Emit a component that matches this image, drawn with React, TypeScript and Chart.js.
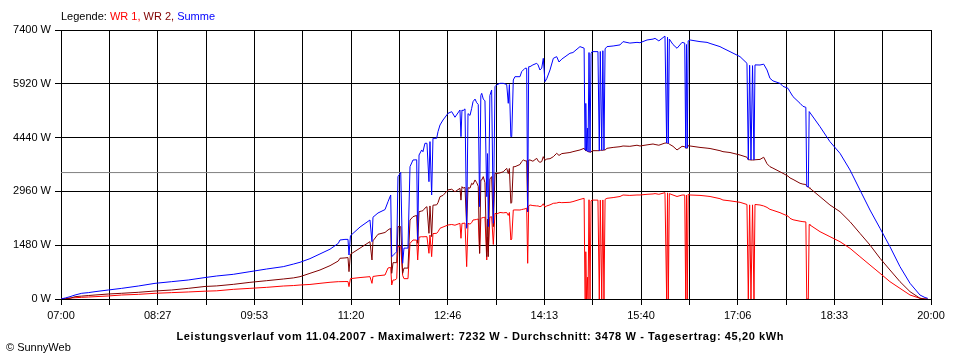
import { useEffect, useRef } from "react";
import { Chart, registerables } from "chart.js";

Chart.register(...registerables);

// x labels (every second grid line), day span in minutes from 07:00
const xTickLabels = ["07:00", "08:27", "09:53", "11:20", "12:46", "14:13", "15:40", "17:06", "18:33", "20:00"];
const dayMinutes = 780;
const yTickValues = [0, 1480, 2960, 4440, 5920, 7400];
const averageW = 3478;

const legendParts: [string, string][] = [
  ["Legende: ", "#000000"],
  ["WR 1,", "#ff0000"],
  [" WR 2,", "#800000"],
  [" Summe", "#0000ff"],
];
const titleText =
  "Leistungsverlauf vom 11.04.2007 - Maximalwert: 7232 W - Durchschnitt: 3478 W - Tagesertrag: 45,20 kWh";
const footerText = "\u00A9 SunnyWeb";

// minutes after 07:00
const minutes = [
  0, 4, 8.1, 12.6, 18.6, 24.5, 30.5, 42.4, 54.4, 69.3,
  84.3, 99.2, 114.1, 129.1, 139.6, 154.5, 169.4, 184.4, 199.3, 208.3,
  214.3, 223.2, 232.2, 241.2, 248.6, 250.1, 254.6, 257.3, 258.2, 259.5,
  268.1, 277.0, 278.8, 279.7, 284.2, 290.5, 293.2, 295.6, 296.5, 297.7,
  299.4, 301.0, 302.1, 304.6, 306.3, 307.5, 311.1, 312.9, 315.6, 318.9,
  319.8, 321.0, 323.4, 324.5, 326.3, 328.1, 329.9, 330.8, 332.3, 333.5,
  336.8, 338.0, 339.8, 342.5, 347.0, 350.3, 353.2, 357.7, 358.6, 359.5,
  360.4, 362.2, 363.7, 364.9, 366.7, 368.2, 369.4, 371.2, 372.7, 374.1,
  375.3, 376.4, 377.2, 378.6, 380.1, 381.7, 382.4, 383.1, 384.5, 386.1,
  387.6, 389.1, 390.6, 393.6, 396.5, 399.6, 401.0, 402.0, 403.3, 404.1,
  405.5, 407.0, 411.5, 413.0, 414.5, 416.0, 417.5, 418.4, 419.3, 420.5,
  423.1, 426.5, 427.7, 429.4, 431.0, 432.4, 433.9, 435.5, 438.4, 441.4,
  444.4, 446.5, 449.0, 456.3, 459.0, 465.3, 469.0, 469.8, 470.5, 471.1,
  472.0, 472.5, 473.4, 474.3, 475.2, 476.1, 481.4, 482.6, 483.5, 484.8,
  485.8, 486.8, 487.8, 489.5, 495.0, 501.2, 503.9, 510.0, 516.4, 519.1,
  525.4, 530.8, 532.6, 536.0, 541.5, 543.0, 543.8, 544.5, 545.4, 548.7,
  552.3, 556.8, 559.2, 560.1, 560.8, 561.5, 562.3, 564.0, 572.9, 579.2,
  581.9, 590.8, 593.5, 599.8, 608.8, 615.0, 616.2, 617.4, 618.6, 620.0,
  621.3, 622.2, 626.7, 630.0, 633.0, 635.6, 638.3, 644.6, 647.3, 651.8,
  653.6, 656.3, 662.6, 665.2, 667.8, 668.6, 670.0, 670.8, 671.5, 680.5,
  689.4, 698.4, 707.4, 716.3, 725.3, 734.3, 743.2, 752.2, 761.2, 770.1,
  774.6, 777.0,
];

const wr1 = [
  0, 10, 28, 35, 46, 55, 64, 83, 110, 128,
  157, 175, 193, 215, 225, 266, 293, 321, 357, 370,
  385, 400, 431, 460, 477, 477, 480, 480, 340, 560,
  590, 615, 430, 620, 640, 660, 853, 870, 385, 523,
  523, 560, 1440, 1440, 650, 560, 560, 1530, 1623, 1620,
  1073, 1700, 1715, 1710, 1715, 1715, 1257, 1760, 1165, 1800,
  1807, 1850, 1945, 1980, 2036, 2050, 2030, 2082, 1670, 2082,
  2080, 2090, 890, 2082, 2060, 2100, 2173, 2180, 2190, 2200,
  1257, 2210, 2230, 2240, 2250, 1073, 1700, 1300, 2250, 2264,
  1500, 2357, 2340, 2380, 2370, 2380, 2300, 2380, 1623, 1650,
  2448, 2450, 2448, 2460, 2470, 2480, 2500, 982, 2560, 2586,
  2570, 2560, 2560, 2540, 2560, 2620, 2530, 2560, 2590, 2632,
  2640, 2660, 2650, 2660, 2680, 2740, 2770, 0, 1300, 0,
  600, 0, 2730, 0, 2700, 2720, 2720, 0, 2720, 0,
  2725, 0, 2740, 2770, 2790, 2820, 2861, 2850, 2861, 2861,
  2880, 2890, 2900, 2880, 2925, 0, 2920, 0, 2900, 2860,
  2820, 2860, 2860, 0, 2860, 0, 2880, 2861, 2850, 2830,
  2820, 2760, 2723, 2700, 2660, 2600, 0, 2590, 0, 2590,
  0, 2600, 2586, 2560, 2520, 2466, 2440, 2375, 2338, 2280,
  2219, 2180, 2140, 2127, 2120, 0, 0, 2050, 2036, 1852,
  1715, 1577, 1394, 1165, 935, 707, 477, 293, 110, 20,
  0, 0,
];

const wr2 = [
  0, 10, 18, 64, 80, 95, 110, 137, 157, 184,
  220, 248, 293, 345, 360, 403, 458, 504, 550, 580,
  614, 706, 798, 917, 1045, 1120, 1130, 1140, 752, 1230,
  1400, 1577, 1073, 1600, 1780, 1830, 1900, 1945, 707, 1000,
  1000, 1000, 1990, 1990, 707, 850, 850, 2173, 2265, 2300,
  1532, 2402, 2420, 2430, 2500, 2540, 1807, 2560, 1715, 2580,
  2590, 2650, 2815, 2850, 3000, 3020, 2950, 3045, 2720, 3090,
  3050, 3070, 1990, 3060, 3050, 3183, 3150, 3275, 3200, 3100,
  1257, 3275, 3275, 3367, 3200, 1165, 2200, 1165, 3300, 3367,
  1990, 3458, 3450, 3470, 3500, 3595, 3450, 3590, 2632, 2650,
  3640, 3640, 3700, 3780, 3824, 3800, 3800, 2400, 3824, 3824,
  3790, 3870, 3800, 3760, 3780, 3915, 3820, 3850, 3860, 3915,
  4008, 3950, 4000, 4030, 4053, 4100, 4145, 4100, 4080, 4080,
  4060, 4050, 4050, 4040, 4040, 4080, 4080, 4080, 4090, 4090,
  4090, 4100, 4100, 4145, 4170, 4190, 4209, 4200, 4230, 4209,
  4240, 4264, 4250, 4230, 4290, 4290, 4280, 4280, 4260, 4200,
  4100, 4200, 4190, 4150, 4150, 4150, 4220, 4209, 4170, 4150,
  4140, 4080, 4053, 4030, 3961, 3900, 3830, 3830, 3824, 3824,
  3824, 3830, 3840, 3900, 3720, 3640, 3600, 3500, 3457, 3380,
  3330, 3290, 3183, 3160, 3150, 3100, 3080, 3060, 3045, 2815,
  2586, 2402, 2127, 1807, 1485, 1120, 798, 477, 202, 20,
  0, 0,
];

const summe = [
  0, 30, 64, 110, 157, 175, 202, 248, 293, 357,
  431, 477, 523, 590, 633, 679, 752, 825, 890, 960,
  1010, 1110, 1240, 1370, 1530, 1623, 1640, 1640, 1210, 1740,
  1980, 2173, 1577, 2250, 2366, 2460, 2677, 2861, 1165, 1200,
  1250, 1300, 3365, 3480, 982, 1400, 1400, 3640, 3824, 3830,
  1623, 3961, 4100, 4050, 4283, 4283, 3227, 4330, 2861, 4420,
  4420, 4603, 4787, 4924, 5108, 5153, 5000, 5200, 4466, 5200,
  5180, 5230, 1945, 5100, 5050, 5245, 5428, 5500, 5400, 5350,
  2540, 5600, 5658, 5500, 5450, 2815, 4000, 1990, 5600, 5750,
  2082, 5841, 5890, 5933, 5933, 5900, 5383, 5900, 4466, 4466,
  6025, 6116, 6116, 6254, 6300, 6347, 6347, 2400, 6390, 6392,
  6440, 6484, 6440, 6300, 6350, 6621, 5979, 6060, 6300, 6621,
  6667, 6520, 6600, 6760, 6780, 6943, 6900, 4100, 5380, 4080,
  4700, 4050, 6780, 4040, 6750, 6805, 6805, 4080, 6810, 4090,
  6830, 4100, 6880, 6943, 6960, 6990, 7080, 7040, 7060, 7050,
  7125, 7150, 7170, 7100, 7232, 4290, 7200, 4280, 7150, 7000,
  6897, 7060, 7040, 4150, 7000, 4150, 7100, 7125, 7080, 7060,
  7030, 6943, 6900, 6805, 6667, 6484, 3830, 6430, 3824, 6420,
  3824, 6440, 6437, 6460, 6300, 6071, 6000, 5933, 5850, 5796,
  5700, 5566, 5383, 5300, 5273, 3100, 3080, 5156, 5156, 4740,
  4328, 4008, 3549, 3000, 2448, 1945, 1440, 890, 432, 110,
  40, 20,
];

const FONT = '"Liberation Sans", Arial, sans-serif';

export default function App() {
  const ref = useRef<HTMLCanvasElement>(null);

  useEffect(() => {
    document.body.style.margin = "0";
    const canvas = ref.current;
    if (!canvas) return;

    const pts = (vals: number[]) => minutes.map((m, i) => ({ x: m, y: vals[i] }));
    const gridCount = (xTickLabels.length - 1) * 2;
    const gridMinutes = Array.from({ length: gridCount + 1 }, (_, i) => (i * dayMinutes) / gridCount);

    const textPlugin = {
      id: "sunnyTexts",
      afterDraw(chart: any) {
        const ctx: CanvasRenderingContext2D = chart.ctx;
        ctx.save();
        ctx.textBaseline = "middle";
        ctx.textAlign = "left";
        ctx.font = `11px ${FONT}`;
        let x = chart.chartArea.left;
        for (const [txt, col] of legendParts) {
          ctx.fillStyle = col;
          ctx.fillText(txt, x, 17);
          x += ctx.measureText(txt).width;
        }
        ctx.fillStyle = "#000";
        ctx.fillText(footerText, 6, 348);
        ctx.font = `bold 11px ${FONT}`;
        const w = ctx.measureText(titleText).width;
        const targetW = 607;
        (ctx as any).letterSpacing = `${(targetW - w) / (titleText.length - 1)}px`;
        ctx.textAlign = "left";
        ctx.fillText(titleText, 480 - targetW / 2, 337);
        ctx.restore();
      },
    };

    const line = (label: string, data: any, color: string) => ({
      label,
      data,
      borderColor: color,
      backgroundColor: color,
      borderWidth: 1,
      pointRadius: 0,
      tension: 0,
      fill: false,
    });

    const chart = new Chart(canvas, {
      type: "line",
      data: {
        datasets: [
          line("Summe", pts(summe), "#0000ff"),
          line("WR 2", pts(wr2), "#800000"),
          line("WR 1", pts(wr1), "#ff0000"),
          line("Durchschnitt", [{ x: 0, y: averageW }, { x: dayMinutes, y: averageW }], "#808080"),
        ],
      },
      options: {
        animation: false,
        responsive: false,
        devicePixelRatio: 1,
        events: [],
        layout: { padding: { top: 30, right: 29, left: 0, bottom: 0 } },
        plugins: { legend: { display: false }, tooltip: { enabled: false }, title: { display: false } },
        scales: {
          x: {
            type: "linear",
            min: 0,
            max: dayMinutes,
            afterBuildTicks: (s: any) => {
              s.ticks = gridMinutes.map((v) => ({ value: v }));
            },
            afterFit: (s: any) => {
              s.height = 61;
            },
            ticks: {
              autoSkip: false,
              maxRotation: 0,
              minRotation: 0,
              color: "#000",
              padding: 4,
              font: { family: FONT, size: 11 },
              callback: (_v: any, i: number) => (i % 2 === 0 ? xTickLabels[i / 2] : ""),
            },
            grid: { color: "#000", lineWidth: 1, tickLength: 6 },
            border: { color: "#000", width: 1 },
          },
          y: {
            type: "linear",
            min: 0,
            max: yTickValues[yTickValues.length - 1],
            afterBuildTicks: (s: any) => {
              s.ticks = yTickValues.map((v) => ({ value: v }));
            },
            afterFit: (s: any) => {
              s.width = 61;
            },
            ticks: {
              color: "#000",
              padding: 4,
              font: { family: FONT, size: 11 },
              callback: (v: any) => `${v} W`,
            },
            grid: { color: "#000", lineWidth: 1, tickLength: 6 },
            border: { color: "#000", width: 1 },
          },
        },
      },
      plugins: [textPlugin],
    } as any);

    return () => chart.destroy();
  }, []);

  return (
    <div style={{ width: 960, height: 360, background: "#fff" }}>
      <canvas ref={ref} width={960} height={360} style={{ display: "block", width: 960, height: 360 }} />
    </div>
  );
}
